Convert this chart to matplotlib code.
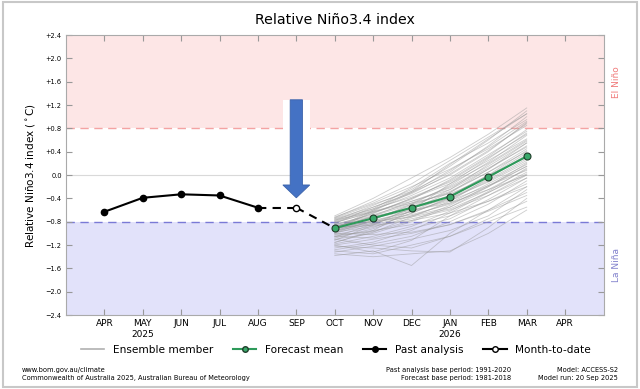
import numpy as np
import matplotlib
matplotlib.use("Agg")
import matplotlib.pyplot as plt
from matplotlib.lines import Line2D
from matplotlib.patches import Rectangle, FancyArrow

# month positions: 1 = APR 2025 ... 13 = APR 2026
month_labels = ["APR", "MAY\n2025", "JUN", "JUL", "AUG", "SEP", "OCT",
                "NOV", "DEC", "JAN\n2026", "FEB", "MAR", "APR"]
y_ticks = [-2.4, -2.0, -1.6, -1.2, -0.8, -0.4, 0.0, 0.4, 0.8, 1.2, 1.6, 2.0, 2.4]

past_months = [1, 2, 3, 4, 5]
past_values = [-0.63, -0.39, -0.33, -0.35, -0.56]

mtd_month = 6
mtd_value = -0.56

fc_months = [7, 8, 9, 10, 11, 12]
fc_mean = [-0.91, -0.74, -0.56, -0.37, -0.03, 0.32]

# ensemble members OCT..MAR
ensemble_members = [
    [-0.72, -0.48, -0.20, 0.10, 0.45, 0.85],
    [-0.80, -0.60, -0.35, -0.05, 0.35, 0.75],
    [-0.85, -0.70, -0.50, -0.30, 0.05, 0.40],
    [-0.95, -0.85, -0.70, -0.55, -0.25, 0.10],
    [-1.05, -0.95, -0.85, -0.70, -0.45, -0.15],
    [-1.20, -1.10, -1.00, -0.85, -0.60, -0.30],
    [-1.30, -1.35, -1.20, -1.05, -0.80, -0.55],
    [-1.38, -1.30, -1.55, -1.00, -0.60, -0.20],
    [-0.90, -0.65, -0.40, -0.10, 0.30, 0.70],
    [-0.88, -0.72, -0.55, -0.35, 0.00, 0.30],
    [-0.92, -0.78, -0.62, -0.42, -0.10, 0.25],
    [-0.75, -0.55, -0.30, 0.00, 0.40, 0.90],
    [-1.00, -0.82, -0.58, -0.30, 0.10, 0.55],
    [-0.98, -0.88, -0.75, -0.60, -0.35, -0.05],
    [-1.10, -1.00, -0.80, -0.55, -0.20, 0.20],
    [-1.25, -1.15, -0.95, -0.65, -0.30, 0.05],
    [-0.82, -0.62, -0.45, -0.25, 0.10, 0.50],
    [-0.86, -0.66, -0.40, -0.15, 0.20, 0.60],
    [-0.94, -0.80, -0.68, -0.50, -0.20, 0.15],
    [-0.78, -0.52, -0.25, 0.15, 0.60, 1.10],
    [-1.15, -0.98, -0.72, -0.45, -0.05, 0.35],
    [-0.96, -0.75, -0.52, -0.28, 0.05, 0.45],
    [-0.90, -0.86, -0.78, -0.65, -0.45, -0.20],
    [-1.22, -1.25, -1.30, -1.32, -0.90, -0.40],
    [-0.84, -0.68, -0.48, -0.20, 0.15, 0.55],
    [-0.93, -0.70, -0.45, -0.22, 0.12, 0.48],
    [-1.02, -0.90, -0.65, -0.40, -0.08, 0.28],
    [-0.87, -0.74, -0.60, -0.48, -0.25, 0.00],
    [-0.99, -0.77, -0.50, -0.18, 0.22, 0.68],
    [-1.08, -0.92, -0.70, -0.48, -0.15, 0.18],
    [-0.76, -0.58, -0.38, -0.12, 0.25, 0.62],
    [-1.18, -1.05, -0.88, -0.62, -0.28, 0.12],
    [-0.91, -0.83, -0.66, -0.38, -0.02, 0.38],
    [-1.28, -1.18, -1.05, -0.80, -0.50, -0.10],
    [-0.81, -0.64, -0.42, -0.08, 0.32, 0.78],
    [-0.97, -0.79, -0.63, -0.44, -0.18, 0.08],
    [-1.12, -0.86, -0.55, -0.25, 0.18, 0.58],
    [-0.89, -0.71, -0.57, -0.40, -0.12, 0.22],
    [-0.74, -0.50, -0.28, 0.05, 0.50, 1.00],
    [-1.05, -1.08, -0.92, -0.75, -0.42, -0.05],
    [-0.70, -0.40, -0.05, 0.30, 0.70, 1.15],
    [-0.73, -0.45, -0.15, 0.25, 0.65, 1.05],
    [-1.35, -1.40, -1.35, -1.30, -1.00, -0.60],
    [-1.10, -1.20, -1.25, -1.05, -0.75, -0.45],
    [-0.79, -0.58, -0.22, 0.20, 0.55, 0.95],
    [-1.00, -1.02, -0.98, -0.85, -0.62, -0.35],
    [-0.83, -0.55, -0.32, 0.02, 0.42, 0.88],
    [-1.16, -0.95, -0.60, -0.15, 0.28, 0.72],
    [-0.95, -0.62, -0.30, 0.08, 0.48, 0.92],
    [-1.32, -1.22, -1.10, -0.95, -0.70, -0.25],
    [-0.88, -0.80, -0.72, -0.58, -0.30, 0.02],
    [-1.06, -0.84, -0.62, -0.35, 0.00, 0.42],
    [-0.77, -0.63, -0.48, -0.32, -0.05, 0.32],
    [-1.20, -1.32, -1.12, -0.70, -0.35, 0.00],
    [-0.92, -0.60, -0.28, 0.18, 0.62, 1.05],
    [-1.03, -0.97, -0.78, -0.52, -0.18, 0.15],
]

green = "#2e9a5a"

fig = plt.figure(figsize=(6.4, 3.89), dpi=100)
ax = fig.add_axes([0.103, 0.19, 0.84, 0.72])

ax.set_xlim(0, 14)
ax.set_ylim(-2.4, 2.4)

# El Nino / La Nina bands
ax.axhspan(0.8, 2.4, color="#fde6e6", zorder=0, lw=0)
ax.axhspan(-2.4, -0.8, color="#e2e2fa", zorder=0, lw=0)
ax.axhline(0.8, color="#f4a3a3", ls=(0, (6, 4)), lw=1.0, zorder=1)
ax.axhline(-0.8, color="#7a7ad6", ls=(0, (6, 4)), lw=1.0, zorder=1)
ax.axhline(0.0, color="#d9d9d9", lw=0.8, zorder=1)

for member in ensemble_members:
    ax.plot(fc_months, member, color="#9a9a9a", lw=0.6, alpha=0.5, zorder=2)

ax.plot(past_months, past_values, color="black", lw=1.5, marker="o", ms=4.5, zorder=4)
ax.plot([past_months[-1], mtd_month], [past_values[-1], mtd_value],
        color="black", lw=1.5, ls=(0, (4, 3)), zorder=4)
ax.plot([mtd_month, fc_months[0]], [mtd_value, fc_mean[0]],
        color="black", lw=1.5, ls=(0, (4, 3)), zorder=4)
ax.plot([mtd_month], [mtd_value], marker="o", ms=4.5, mfc="white", mec="black",
        mew=1.0, ls="none", zorder=5)
ax.plot(fc_months, fc_mean, color=green, lw=1.5, marker="o", ms=5,
        mfc="#3aa86a", mec="#1f3d2a", mew=0.8, zorder=5)

# highlighting arrow with white backing
ax.add_patch(Rectangle((5.66, 0.78), 0.7, 0.51, facecolor="white", lw=0, zorder=6))
ax.add_patch(FancyArrow(6.0, 1.29, 0, -1.68, width=0.32, head_width=0.7,
                        head_length=0.22, length_includes_head=True,
                        facecolor="#4472c4", edgecolor="#3a62aa", lw=0.6, zorder=7))

ax.set_xticks(range(1, 14))
ax.set_xticklabels(month_labels, fontsize=6.5)
ax.set_yticks(y_ticks)
ax.set_yticklabels([("+%.1f" % v if v > 0 else "%.1f" % v).replace("-", "\u2212")
                    for v in y_ticks], fontsize=4.8)
ax.tick_params(direction="in", top=True, right=True, length=4, color="#999999",
               width=0.8, pad=3)
for s in ax.spines.values():
    s.set_color("#aaaaaa")
    s.set_linewidth(0.8)

ax.set_ylabel("Relative Niño3.4 index ($^\\circ$C)", fontsize=7.5, labelpad=6)
ax.set_title("Relative Niño3.4 index", fontsize=10.2, pad=8)

ax.text(1.025, 0.83, "El Niño", transform=ax.transAxes, rotation=90,
        ha="center", va="center", fontsize=6.5, color="#f07a7a")
ax.text(1.025, 0.18, "La Niña", transform=ax.transAxes, rotation=90,
        ha="center", va="center", fontsize=6.5, color="#8080cc")

handles = [
    Line2D([], [], color="#b0b0b0", lw=1.2),
    Line2D([], [], color=green, lw=1.5, marker="o", ms=4, mfc="#3aa86a", mec="#1f3d2a"),
    Line2D([], [], color="black", lw=1.5, marker="o", ms=4),
    Line2D([], [], color="black", lw=1.5, marker="o", ms=4, mfc="white"),
]
labels = ["Ensemble member", "Forecast mean", "Past analysis", "Month-to-date"]
fig.legend(handles, labels, loc="center", bbox_to_anchor=(0.525, 0.1), ncol=4,
           frameon=False, fontsize=7.6, handlelength=2.2, columnspacing=1.9)

fig.text(0.034, 0.049, "www.bom.gov.au/climate", fontsize=4.8, va="center")
fig.text(0.034, 0.028, "Commonwealth of Australia 2025, Australian Bureau of Meteorology",
         fontsize=4.8, va="center")
fig.text(0.798, 0.049, "Past analysis base period: 1991-2020", fontsize=4.8,
         va="center", ha="right")
fig.text(0.798, 0.028, "Forecast base period: 1981-2018", fontsize=4.8,
         va="center", ha="right")
fig.text(0.966, 0.049, "Model: ACCESS-S2", fontsize=4.8, va="center", ha="right")
fig.text(0.966, 0.028, "Model run: 20 Sep 2025", fontsize=4.8, va="center", ha="right")

fig.patches.append(Rectangle((0.004, 0.006), 0.992, 0.988, transform=fig.transFigure,
                             fill=False, edgecolor="#c8c8c8", lw=1.5))

fig.savefig("out.png", dpi=100)
